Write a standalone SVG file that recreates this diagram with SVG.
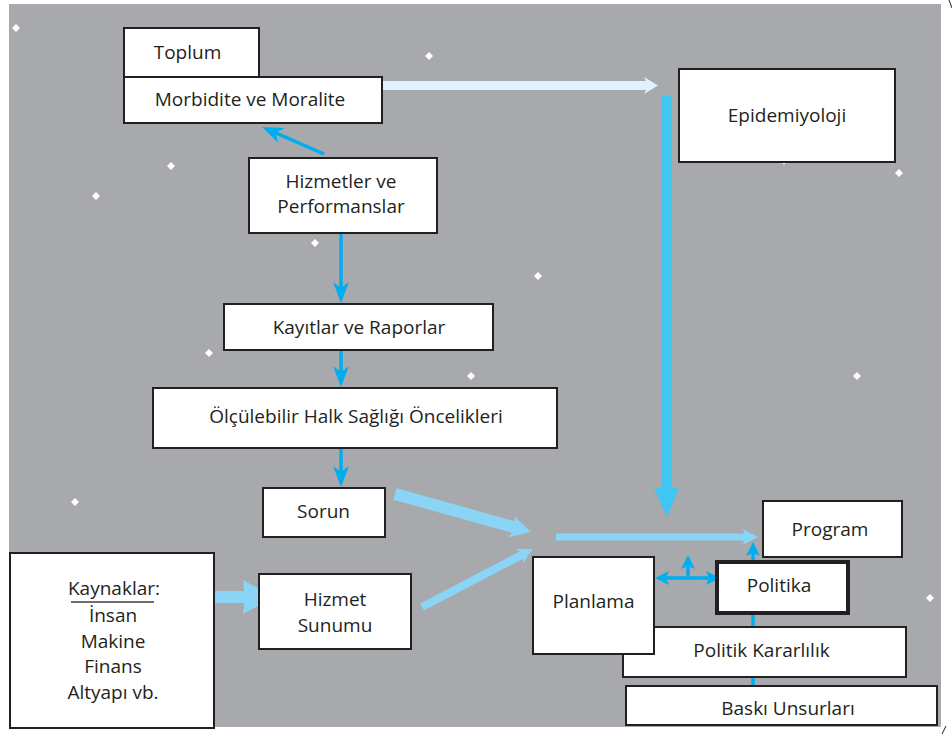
<svg xmlns="http://www.w3.org/2000/svg" xmlns:xlink="http://www.w3.org/1999/xlink" width="952" height="734" viewBox="0 0 952 734">
  <style>
    .box { fill: #ffffff; stroke: #231f20; stroke-width: 2; }
    .box-bold { fill: #ffffff; stroke: #231f20; stroke-width: 4; }
    .lbl { font-family: "Open Sans", "Noto Sans", "DejaVu Sans", sans-serif; font-size: 19px; fill: #231f20; text-anchor: middle; }
    .thin { stroke: #00aeef; stroke-width: 3.5; fill: none; }
    .pale { fill: #8ad4f5; }
  </style>
  <defs>
    <marker id="head" markerUnits="userSpaceOnUse" viewBox="0 0 21 16" markerWidth="21" markerHeight="16" refX="8" refY="8" orient="auto">
      <path d="M0,0 L21,8 L0,16 L6,8 z" fill="#00aeef"/>
    </marker>
    <marker id="head-small" markerUnits="userSpaceOnUse" viewBox="0 0 14 14" markerWidth="14" markerHeight="14" refX="4" refY="7" orient="auto-start-reverse">
      <path d="M0,0 L14,7 L0,14 L3,7 z" fill="#00aeef"/>
    </marker>
    <path id="star" d="M0,-4 L4,0 L0,4 L-4,0 z" fill="#ffffff"/>
  </defs>

  <!-- backdrop -->
  <rect x="9" y="4" width="932" height="723" fill="#a7a9ac"/>
  <g id="stars">
    <use href="#star" x="16" y="28"/>
    <use href="#star" x="429" y="56"/>
    <use href="#star" x="171" y="166"/>
    <use href="#star" x="96" y="196"/>
    <use href="#star" x="315" y="243"/>
    <use href="#star" x="538" y="276"/>
    <use href="#star" x="209" y="353"/>
    <use href="#star" x="471" y="376"/>
    <use href="#star" x="899" y="173"/>
    <use href="#star" x="857" y="376"/>
    <use href="#star" x="75" y="502"/>
    <use href="#star" x="930" y="598"/>
    <circle cx="784" cy="163" r="1.2" fill="#ffffff"/>
  </g>
  <!-- trim marks -->
  <path d="M949,0 L952,8 M942,734 L946,726" stroke="#231f20" stroke-width="1" fill="none"/>

  <g id="connectors">
    <!-- Morbidite -> Epidemiyoloji -->
    <polygon points="382,81 646,81 644,77 658,85.5 644,94 646,90 382,90" fill="#dff2fb"/>
    <!-- Epidemiyoloji column down to the planning hub -->
    <polygon points="662,96 672,96 672,488 679,488 667,517 654,488 662,488" fill="#40c6f2"/>
    <!-- Hizmetler -> Morbidite -->
    <line class="thin" x1="324" y1="154" x2="273.9" y2="132.2" marker-end="url(#head)"/>
    <!-- vertical chain -->
    <line class="thin" x1="341" y1="233" x2="341" y2="290" marker-end="url(#head)"/>
    <line class="thin" x1="341" y1="350" x2="341" y2="374" marker-end="url(#head)"/>
    <line class="thin" x1="341" y1="448" x2="341" y2="474" marker-end="url(#head)"/>
    <!-- Kaynaklar -> Hizmet Sunumu -->
    <polygon class="pale" points="200,591 244,591 243,580 275,597 243,614 244,603 200,603"/>
    <!-- Sorun -> hub -->
    <polygon class="pale" transform="translate(395,494) rotate(15.6)" points="0,-6 123,-6 121,-11 141,0 121,11 123,6 0,6"/>
    <!-- Hizmet Sunumu -> hub -->
    <polygon class="pale" transform="translate(422,607) rotate(-27.6)" points="0,-4 112,-4 110,-8 125,0 110,8 112,4 0,4"/>
    <!-- hub -> Program -->
    <polygon class="pale" points="556,533.5 744,533.5 743,529 758,537 743,545 744,540.5 556,540.5"/>
    <!-- Baskı Unsurları up to Program -->
    <line class="thin" x1="753" y1="686" x2="753" y2="552" stroke-width="3" marker-end="url(#head-small)"/>
    <!-- Planlama <-> Politika -->
    <line class="thin" x1="665" y1="578" x2="710" y2="578" stroke-width="4" marker-start="url(#head-small)" marker-end="url(#head-small)"/>
    <line class="thin" x1="688" y1="578" x2="688" y2="565" stroke-width="4" marker-end="url(#head-small)"/>
  </g>

  <g id="toplum">
    <rect class="box" x="124" y="28" width="135" height="49"/>
    <text class="lbl" x="187.5" y="59">Toplum</text>
  </g>
  <g id="morbidite">
    <rect class="box" x="124" y="77" width="258" height="46"/>
    <text class="lbl" x="250" y="106">Morbidite ve Moralite</text>
  </g>
  <g id="epidemiyoloji">
    <rect class="box" x="679" y="69" width="216" height="93"/>
    <text class="lbl" x="787" y="122">Epidemiyoloji</text>
  </g>
  <g id="hizmetler">
    <rect class="box" x="249" y="158" width="188" height="75"/>
    <text class="lbl" x="341" y="188">Hizmetler ve</text>
    <text class="lbl" x="341" y="213">Performanslar</text>
  </g>
  <g id="kayitlar">
    <rect class="box" x="224" y="304" width="269" height="46"/>
    <text class="lbl" x="359" y="334">Kayıtlar ve Raporlar</text>
  </g>
  <g id="oncelikler">
    <rect class="box" x="153" y="388" width="404" height="60"/>
    <text class="lbl" x="356" y="423">Ölçülebilir Halk Sağlığı Öncelikleri</text>
  </g>
  <g id="sorun">
    <rect class="box" x="263" y="488" width="122" height="49"/>
    <text class="lbl" x="323.5" y="518">Sorun</text>
  </g>
  <g id="hizmet-sunumu">
    <rect class="box" x="259" y="574" width="152" height="75"/>
    <text class="lbl" x="335" y="606">Hizmet</text>
    <text class="lbl" x="335" y="632">Sunumu</text>
  </g>
  <g id="kaynaklar">
    <rect class="box" x="10" y="553" width="204" height="175"/>
    <text class="lbl" x="114" y="595">Kaynaklar:</text>
    <line x1="71" y1="602" x2="154" y2="602" stroke="#6d6e71" stroke-width="2"/>
    <text class="lbl" x="113" y="622">İnsan</text>
    <text class="lbl" x="113" y="648">Makine</text>
    <text class="lbl" x="113" y="673">Finans</text>
    <text class="lbl" x="113" y="699">Altyapı vb.</text>
  </g>
  <g id="program">
    <rect class="box" x="763" y="501" width="139" height="56"/>
    <text class="lbl" x="830" y="536">Program</text>
  </g>
  <g id="politika">
    <rect class="box-bold" x="717" y="562" width="131" height="51"/>
    <text class="lbl" x="779" y="592">Politika</text>
  </g>
  <g id="politik-kararlilik">
    <rect class="box" x="623" y="627" width="283" height="50"/>
    <text class="lbl" x="761.5" y="657">Politik Kararlılık</text>
  </g>
  <g id="planlama">
    <rect class="box" x="533" y="557" width="121" height="97"/>
    <text class="lbl" x="593.5" y="608">Planlama</text>
  </g>
  <g id="baski-unsurlari">
    <rect class="box" x="626" y="686" width="311" height="39"/>
    <text class="lbl" x="788" y="715">Baskı Unsurları</text>
  </g>
</svg>
